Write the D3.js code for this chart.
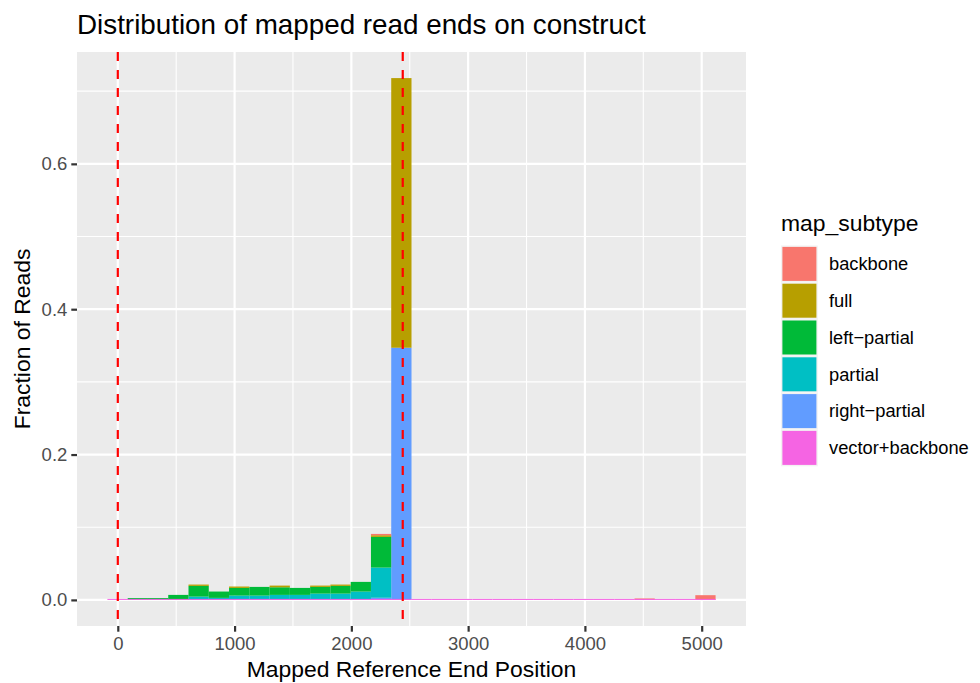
<!DOCTYPE html>
<html>
<head>
<meta charset="utf-8">
<script src="https://cdn.jsdelivr.net/npm/d3@7"></script>
<style>
  body { margin: 0; background: #fff; }
  svg { display: block; font-family: "Liberation Sans", Arial, sans-serif; }
</style>
</head>
<body>
<div class="canvas"></div>
<script>
// histogram bins (30 bins, left edge + width, in reference positions)
const binStart = -89
const binWidth = 173.6
const binCount = 30

// fraction of reads per bin, by map_subtype
const backbone = [0, 0, 0, 0, 0, 0, 0, 0, 0, 0, 0, 0, 0, 0.0018, 0, 0, 0, 0, 0, 0, 0, 0, 0, 0, 0, 0, 0.002, 0, 0, 0.0065]
const full = [0, 0, 0, 0, 0.0018, 0, 0.0019, 0, 0.0023, 0, 0.0018, 0.0018, 0, 0.0023, 0.371, 0, 0, 0, 0, 0, 0, 0, 0, 0, 0, 0, 0, 0, 0, 0]
const leftPartial = [0, 0.0025, 0.0025, 0.0069, 0.0147, 0.0087, 0.0105, 0.0119, 0.0105, 0.0096, 0.0092, 0.0106, 0.0133, 0.0422, 0, 0, 0, 0, 0, 0, 0, 0, 0, 0, 0, 0, 0, 0, 0, 0]
const partial = [0, 0, 0, 0, 0.0046, 0.0028, 0.006, 0.006, 0.0069, 0.0069, 0.0087, 0.0087, 0.0115, 0.0415, 0, 0, 0, 0, 0, 0, 0, 0, 0, 0, 0, 0, 0, 0, 0, 0]
const rightPartial = [0, 0, 0, 0, 0, 0, 0, 0, 0, 0, 0, 0, 0, 0.003, 0.347, 0, 0, 0, 0, 0, 0, 0, 0, 0, 0, 0, 0, 0, 0, 0]
const vectorBackbone = [0, 0, 0, 0, 0, 0, 0, 0, 0, 0, 0, 0, 0, 0, 0, 0, 0, 0, 0, 0, 0, 0, 0, 0, 0, 0, 0, 0, 0, 0]

const subtypes = ['backbone', 'full', 'left\u2212partial', 'partial', 'right\u2212partial', 'vector+backbone']
const subtypeValues = [backbone, full, leftPartial, partial, rightPartial, vectorBackbone]
const colors = ['#F8766D', '#B79F00', '#00BA38', '#00BFC4', '#619CFF', '#F564E3']

// dashed reference lines (construct start / end)
const refLines = [0, 2440]
const xTicks = [0, 1000, 2000, 3000, 4000, 5000]
const yTicks = [0, 0.2, 0.4, 0.6]

const width = 980
const height = 683
const panel = {left: 77, right: 746, top: 52, bottom: 626}

const rows = d3.range(binCount).map(i => {
  const row = {x0: binStart + i * binWidth, x1: binStart + (i + 1) * binWidth}
  subtypes.forEach((s, k) => { row[s] = subtypeValues[k][i] })
  return row
})

// ggplot stacks the first level on top
const stackKeys = subtypes.slice().reverse()
const series = d3.stack().keys(stackKeys)(rows)

const xLo = rows[0].x0
const xHi = rows[rows.length - 1].x1
const xPad = (xHi - xLo) * 0.05
const x = d3.scaleLinear()
  .domain([xLo - xPad, xHi + xPad])
  .range([panel.left, panel.right])

const yMax = d3.max(series[series.length - 1], d => d[1])
const y = d3.scaleLinear()
  .domain([-yMax * 0.05, yMax * 1.05])
  .range([panel.bottom, panel.top])

const color = d3.scaleOrdinal().domain(subtypes).range(colors)

const svg = d3.select('.canvas')
  .append('svg')
  .attr('width', width)
  .attr('height', height)

// panel background
svg.append('rect')
  .attr('x', panel.left)
  .attr('y', panel.top)
  .attr('width', panel.right - panel.left)
  .attr('height', panel.bottom - panel.top)
  .attr('fill', '#EBEBEB')

const xMinor = xTicks.slice(0, -1).map(t => t + 500)
  .concat([xTicks[0] - 500, xTicks[xTicks.length - 1] + 500])
  .filter(t => x(t) > panel.left && x(t) < panel.right)
const yMinor = yTicks.map(t => t + 0.1).concat([-0.1])
  .filter(t => y(t) > panel.top && y(t) < panel.bottom)

const grid = svg.append('g').attr('stroke', '#fff')
grid.selectAll('.vminor').data(xMinor).enter().append('line')
  .attr('x1', d => x(d)).attr('x2', d => x(d))
  .attr('y1', panel.top).attr('y2', panel.bottom)
  .attr('stroke-width', 1.1)
grid.selectAll('.hminor').data(yMinor).enter().append('line')
  .attr('y1', d => y(d)).attr('y2', d => y(d))
  .attr('x1', panel.left).attr('x2', panel.right)
  .attr('stroke-width', 1.1)
grid.selectAll('.vmajor').data(xTicks).enter().append('line')
  .attr('x1', d => x(d)).attr('x2', d => x(d))
  .attr('y1', panel.top).attr('y2', panel.bottom)
  .attr('stroke-width', 2.2)
grid.selectAll('.hmajor').data(yTicks).enter().append('line')
  .attr('y1', d => y(d)).attr('y2', d => y(d))
  .attr('x1', panel.left).attr('x2', panel.right)
  .attr('stroke-width', 2.2)

// stacked bars; the bottom layer keeps a hairline where it is empty (as R draws it)
const bars = svg.append('g')
series.forEach((s, layer) => {
  const minH = layer === 0 ? 1 : 0
  bars.append('g')
    .attr('fill', color(s.key))
    .selectAll('rect')
    .data(s.filter(d => d[1] > d[0] || minH > 0))
    .enter().append('rect')
    .attr('x', d => x(d.data.x0))
    .attr('width', d => x(d.data.x1) - x(d.data.x0))
    .attr('y', d => Math.min(y(d[1]), y(d[0]) - minH))
    .attr('height', d => Math.max(y(d[0]) - y(d[1]), minH))
})
// draw the bottom layer last so its hairline shows on top
bars.node().appendChild(bars.node().firstChild)

// reference lines
svg.append('g').selectAll('line')
  .data(refLines).enter().append('line')
  .attr('x1', d => x(d)).attr('x2', d => x(d))
  .attr('y1', panel.top).attr('y2', panel.bottom)
  .attr('stroke', '#FF0000')
  .attr('stroke-width', 2.2)
  .attr('stroke-dasharray', '9,9')

// axes
const xAxis = svg.append('g')
  .attr('transform', `translate(0, ${panel.bottom})`)
  .call(d3.axisBottom(x).tickValues(xTicks).tickFormat(d3.format('d')).tickSize(5.7).tickPadding(5))
const yAxis = svg.append('g')
  .attr('transform', `translate(${panel.left}, 0)`)
  .call(d3.axisLeft(y).tickValues(yTicks).tickFormat(d3.format('.1f')).tickSize(5.7).tickPadding(4))
;[xAxis, yAxis].forEach(a => {
  a.select('.domain').remove()
  a.selectAll('.tick line').attr('stroke', '#333333').attr('stroke-width', 2.2)
  a.selectAll('.tick text')
    .attr('fill', '#4D4D4D')
    .attr('font-size', 18.5)
    .attr('font-family', '"Liberation Sans", Arial, sans-serif')
})

// titles
svg.append('text')
  .attr('x', panel.left)
  .attr('y', 34)
  .attr('font-size', 27.8)
  .attr('fill', '#000')
  .text('Distribution of mapped read ends on construct')
svg.append('text')
  .attr('x', (panel.left + panel.right) / 2)
  .attr('y', 677)
  .attr('text-anchor', 'middle')
  .attr('font-size', 22.9)
  .text('Mapped Reference End Position')
svg.append('text')
  .attr('transform', `translate(30, ${(panel.top + panel.bottom) / 2}) rotate(-90)`)
  .attr('text-anchor', 'middle')
  .attr('font-size', 22.9)
  .text('Fraction of Reads')

// legend
const legend = svg.append('g').attr('transform', 'translate(781, 0)')
legend.append('text')
  .attr('x', 0)
  .attr('y', 231)
  .attr('font-size', 22.9)
  .text('map_subtype')
const keySize = 36.8
const keyTop = 245.5
const keys = legend.selectAll('.key').data(subtypes).enter().append('g')
  .attr('transform', (d, i) => `translate(0, ${keyTop + i * keySize})`)
keys.append('rect')
  .attr('width', keySize).attr('height', keySize)
  .attr('fill', '#F2F2F2')
keys.append('rect')
  .attr('x', 1.4).attr('y', 1.4)
  .attr('width', keySize - 2.8).attr('height', keySize - 2.8)
  .attr('fill', d => color(d))
keys.append('text')
  .attr('x', 48)
  .attr('y', keySize / 2)
  .attr('dy', '0.35em')
  .attr('font-size', 18.3)
  .text(d => d)
</script>
</body>
</html>
